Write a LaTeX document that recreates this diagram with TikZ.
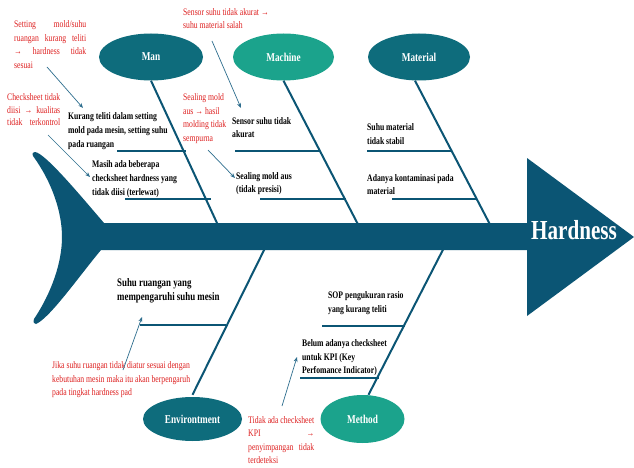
\documentclass[tikz,border=0pt]{standalone}
\usepackage{fontspec}
\setmainfont{Liberation Serif}[FakeStretch=0.77]
\usetikzlibrary{shapes.geometric,arrows.meta}
\definecolor{spinec}{RGB}{11,85,116}
\definecolor{darkell}{RGB}{14,108,124}
\definecolor{lightell}{RGB}{27,163,140}
\definecolor{annred}{RGB}{222,32,32}
\definecolor{ptrc}{RGB}{46,110,142}
\tikzset{
  cat/.style={ellipse, inner sep=0pt, text=white, font=\fontsize{12}{14}\selectfont\bfseries},
  blk/.style={anchor=north west, inner sep=0pt, align=left, text=black},
  annot/.style={anchor=north west, inner sep=0pt, align=left, text=annred},
  bone/.style={draw=spinec, line width=2pt},
  subbone/.style={draw=spinec, line width=1.7pt},
  ptr/.style={draw=ptrc, line width=0.7pt, -{Stealth[length=5pt,width=4pt]}}
}
\newcommand{\jl}[2]{\makebox[#1][s]{#2}}
\begin{document}
\begin{tikzpicture}[x=1pt,y=-1pt]
\useasboundingbox (0,0) rectangle (634,468);
\fill[white] (0,0) rectangle (634,468);

% category ellipses
\node[cat, fill=darkell, minimum width=104pt, minimum height=47pt] (man) at (151,57) {Man};
\node[cat, fill=lightell, minimum width=101pt, minimum height=47pt] (mach) at (283.5,57) {Machine};
\node[cat, fill=darkell, minimum width=102pt, minimum height=47pt] (mat) at (419,57) {Material};
\node[cat, fill=darkell, minimum width=99pt, minimum height=44pt] (env) at (192.5,419) {Environtment};
\node[cat, fill=lightell, minimum width=84pt, minimum height=48pt] (meth) at (362.5,419) {Method};

% spine coordinates
\coordinate (manS) at (223,236);
\coordinate (machS) at (364,236);
\coordinate (matS) at (496,236);
\coordinate (envS) at (271,236);
\coordinate (methS) at (450,236);

% main bones
\draw[bone] (man.south) -- (manS);
\draw[bone] (mach.south) -- (machS);
\draw[bone] ([xshift=-4pt]mat.south) -- (matS);
\draw[bone] ([yshift=2pt]env.north) -- (envS);
\draw[bone] ([xshift=6pt]meth.north) -- (methS);

% sub bones
\coordinate (m1a) at (117,151); \coordinate (m1b) at (186,151);
\coordinate (m2a) at (125,199); \coordinate (m2b) at (211,199);
\coordinate (c1a) at (235,151); \coordinate (c1b) at (320,151);
\coordinate (c2a) at (260,199); \coordinate (c2b) at (346,199);
\coordinate (t1a) at (367,151); \coordinate (t1b) at (452,151);
\coordinate (t2a) at (392,199); \coordinate (t2b) at (477,199);
\coordinate (e1a) at (140,325); \coordinate (e1b) at (226,325);
\coordinate (h1a) at (322,326); \coordinate (h1b) at (405,326);
\coordinate (h2a) at (300,378); \coordinate (h2b) at (379,378);
\draw[subbone] (m1a) -- (m1b);
\draw[subbone] (m2a) -- (m2b);
\draw[subbone] (c1a) -- (c1b);
\draw[subbone] (c2a) -- (c2b);
\draw[subbone] (t1a) -- (t1b);
\draw[subbone] (t2a) -- (t2b);
\draw[subbone] (e1a) -- (e1b);
\draw[subbone] (h1a) -- (h1b);
\draw[subbone] (h2a) -- (h2b);

% fish body: tail, spine, head
\fill[spinec] (35,152) .. controls (45,153) and (80,195) .. (104,223)
  -- (527,223) -- (527,158) -- (634,237) -- (527,316) -- (527,250)
  -- (101,250) .. controls (80,275) and (50,318) .. (36,324)
  .. controls (33,323) and (33,321) .. (34,319)
  .. controls (52,292) and (62,262) .. (62,237)
  .. controls (62,212) and (52,182) .. (33,156)
  .. controls (32,153) and (33,152) .. (35,152) -- cycle;
\node[text=white, font=\fontsize{27.5}{30}\selectfont\bfseries] (hard) at (574,230) {Hardness};

% black cause texts
\begin{scope}[every node/.append style={font=\fontsize{10}{13.8}\selectfont\bfseries}]
\node[blk] (t1) at (68,112.5) {Kurang teliti dalam setting\\mold pada mesin, setting suhu\\pada ruangan};
\node[blk] (t2) at (92,160.5) {Masih ada beberapa\\checksheet hardness yang\\tidak diisi (terlewat)};
\node[blk, font=\fontsize{10}{12.5}\selectfont\bfseries] (t3) at (232,117.5) {Sensor suhu tidak\\akurat};
\node[blk, font=\fontsize{10}{13}\selectfont\bfseries] (t4) at (236,172.5) {Sealing mold aus\\(tidak presisi)};
\node[blk] (t5) at (367,123.5) {Suhu material\\tidak stabil};
\node[blk, font=\fontsize{10}{12.5}\selectfont\bfseries] (t6) at (367,174.5) {Adanya kontaminasi pada\\material};
\node[blk, font=\fontsize{11.5}{13.5}\selectfont\bfseries] (t7) at (117,278.5) {Suhu ruangan yang\\mempengaruhi suhu mesin};
\node[blk, font=\fontsize{10}{13.5}\selectfont\bfseries] (t8) at (328,291.5) {SOP pengukuran rasio\\yang kurang teliti};
\node[blk, font=\fontsize{10}{13.5}\selectfont\bfseries] (t9) at (302,339.5) {Belum adanya checksheet\\untuk KPI (Key\\Perfomance Indicator)};
\end{scope}

% red annotations
\begin{scope}[every node/.append style={font=\fontsize{10}{13.5}\selectfont}]
\node[annot] (a1) at (14,20.5) {\jl{72pt}{Setting mold/suhu}\\\jl{72pt}{ruangan kurang teliti}\\\jl{72pt}{→ hardness tidak}\\sesuai};
\node[annot, font=\fontsize{10}{12.5}\selectfont] (a2) at (7,93.5) {\jl{53pt}{Checksheet tidak}\\\jl{53pt}{diisi → kualitas}\\\jl{53pt}{tidak terkontrol}};
\node[annot, font=\fontsize{10}{13}\selectfont] (a3) at (183,8.5) {Sensor suhu tidak akurat →\\suhu material salah};
\node[annot, font=\fontsize{10}{13.5}\selectfont] (a4) at (183,93.5) {Sealing mold\\aus → hasil\\molding tidak\\sempurna};
\node[annot] (a5) at (52,361.5) {Jika suhu ruangan tidak diatur sesuai dengan\\kebutuhan mesin maka itu akan berpengaruh\\pada tingkat hardness pad};
\node[annot, font=\fontsize{10}{13.3}\selectfont] (a6) at (248,416.5) {\jl{66pt}{Tidak ada checksheet}\\\jl{66pt}{KPI →}\\\jl{66pt}{penyimpangan tidak}\\terdeteksi};
\end{scope}

% annotation pointers
\coordinate (p1s) at (47,67);   \coordinate (p1e) at (83,108);
\coordinate (p2s) at (48,135);  \coordinate (p2e) at (90,177);
\coordinate (p3s) at (212,41);  \coordinate (p3e) at (241,108);
\coordinate (p4s) at (208,150); \coordinate (p4e) at (235,178);
\coordinate (p5s) at (123,370); \coordinate (p5e) at (142,317);
\coordinate (p6s) at (282,406); \coordinate (p6e) at (297,357);
\draw[ptr] (p1s) -- (p1e);
\draw[ptr] (p2s) -- (p2e);
\draw[ptr] (p3s) -- (p3e);
\draw[ptr] (p4s) -- (p4e);
\draw[ptr] (p5s) -- (p5e);
\draw[ptr] (p6s) -- (p6e);
\end{tikzpicture}
\end{document}
